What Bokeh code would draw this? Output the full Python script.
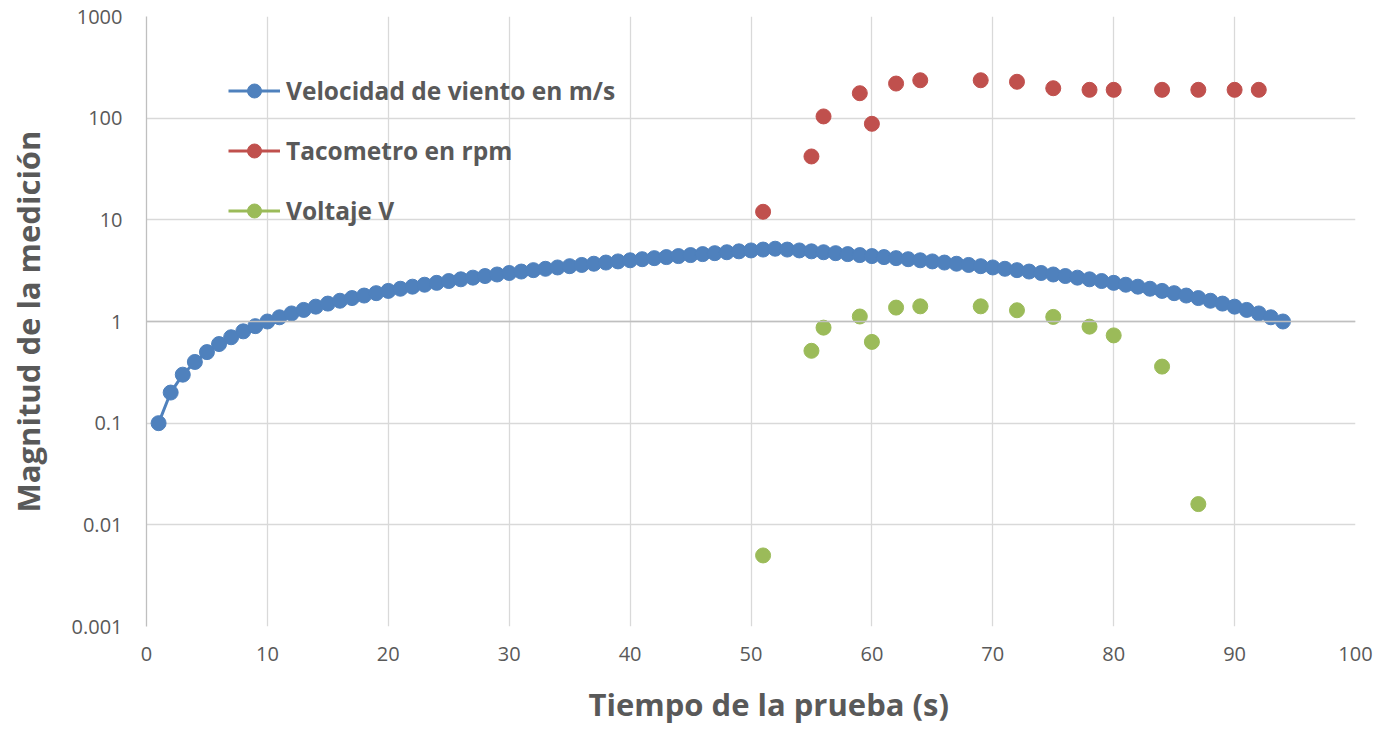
from bokeh.plotting import figure
from bokeh.models import (Legend, LegendItem, FixedTicker, CustomJSTickFormatter, Span, Title)
from bokeh.embed import file_html
from bokeh.resources import INLINE

# ---- data ----
tiempo_viento = [1, 2, 3, 4, 5, 6, 7, 8, 9, 10,
                 11, 12, 13, 14, 15, 16, 17, 18, 19, 20,
                 21, 22, 23, 24, 25, 26, 27, 28, 29, 30,
                 31, 32, 33, 34, 35, 36, 37, 38, 39, 40,
                 41, 42, 43, 44, 45, 46, 47, 48, 49, 50,
                 51, 52, 53, 54, 55, 56, 57, 58, 59, 60,
                 61, 62, 63, 64, 65, 66, 67, 68, 69, 70,
                 71, 72, 73, 74, 75, 76, 77, 78, 79, 80,
                 81, 82, 83, 84, 85, 86, 87, 88, 89, 90,
                 91, 92, 93, 94]
velocidad_viento = [0.1, 0.2, 0.3, 0.4, 0.5, 0.6, 0.7, 0.8, 0.9, 1.0,
                    1.1, 1.2, 1.3, 1.4, 1.5, 1.6, 1.7, 1.8, 1.9, 2.0,
                    2.1, 2.2, 2.3, 2.4, 2.5, 2.6, 2.7, 2.8, 2.9, 3.0,
                    3.1, 3.2, 3.3, 3.4, 3.5, 3.6, 3.7, 3.8, 3.9, 4.0,
                    4.1, 4.2, 4.3, 4.4, 4.5, 4.6, 4.7, 4.8, 4.9, 5.0,
                    5.1, 5.2, 5.1, 5.0, 4.9, 4.8, 4.7, 4.6, 4.5, 4.4,
                    4.3, 4.2, 4.1, 4.0, 3.9, 3.8, 3.7, 3.6, 3.5, 3.4,
                    3.3, 3.2, 3.1, 3.0, 2.9, 2.8, 2.7, 2.6, 2.5, 2.4,
                    2.3, 2.2, 2.1, 2.0, 1.9, 1.8, 1.7, 1.6, 1.5, 1.4,
                    1.3, 1.2, 1.1, 1.0]

tiempo_tacometro = [51, 55, 56, 59, 60, 62, 64, 69, 72, 75, 78, 80, 84, 87, 90, 92]
tacometro_rpm = [12, 42, 104, 176, 88, 219, 236, 236, 228, 197, 190, 190, 190, 190, 190, 190]

tiempo_voltaje = [51, 55, 56, 59, 60, 62, 64, 69, 72, 75, 78, 80, 84, 87]
voltaje_v = [0.005, 0.515, 0.87, 1.12, 0.63, 1.37, 1.41, 1.41, 1.29, 1.11, 0.89, 0.73, 0.36, 0.016]

series_names = ["Velocidad de viento en m/s", "Tacometro en rpm", "Voltaje V"]
x_ticks = [0, 10, 20, 30, 40, 50, 60, 70, 80, 90, 100]
y_ticks = [0.001, 0.01, 0.1, 1, 10, 100, 1000]
y_tick_labels = ["0.001", "0.01", "0.1", "1", "10", "100", "1000"]
x_title = "Tiempo de la prueba (s)"
y_title = "Magnitud de la medición"

# ---- style ----
BLUE = "#4F81BD"
RED = "#C0504D"
GREEN = "#9BBB59"
TEXT = "#595959"
GRID = "#d9d9d9"
FONT = "Open Sans"

p = figure(width=1377, height=744, output_backend="svg", toolbar_location=None,
           x_range=(0, 100), y_range=(0.001, 1000), y_axis_type="log",
           min_border_left=146, min_border_right=22, min_border_top=16, min_border_bottom=118)
p.outline_line_color = None
p.background_fill_color = "white"
p.border_fill_color = "white"

# grid
p.xgrid.ticker = FixedTicker(ticks=x_ticks)
p.ygrid.ticker = FixedTicker(ticks=y_ticks)
p.xgrid.grid_line_color = GRID
p.ygrid.grid_line_color = GRID
p.xgrid.grid_line_width = 1.3
p.ygrid.grid_line_width = 1.3

# axes
p.xaxis.ticker = FixedTicker(ticks=x_ticks)
p.yaxis.ticker = FixedTicker(ticks=y_ticks)
p.yaxis.formatter = CustomJSTickFormatter(args=dict(labels=y_tick_labels),
                                          code="return labels[Math.round(Math.log10(tick)) + 3];")
for ax in (p.xaxis, p.yaxis):
    ax.major_tick_line_color = None
    ax.minor_tick_line_color = None
    ax.major_label_text_color = TEXT
    ax.major_label_text_font = FONT
    ax.major_label_text_font_size = "20px"
    ax.axis_label_text_color = TEXT
    ax.axis_label_text_font = FONT
    ax.axis_label_text_font_style = "bold"
    ax.axis_label_text_font_size = "31px"
p.xaxis.axis_line_color = None
p.yaxis.axis_line_color = "#bfbfbf"
p.yaxis.axis_line_width = 1.3
p.xaxis.major_label_standoff = 14
p.yaxis.major_label_standoff = 18
p.yaxis.axis_label = y_title
p.yaxis.axis_label_standoff = 20

# x-axis title, offset to the right as in the original
p.add_layout(Title(text=x_title, align="left", offset=442, standoff=34,
                   text_font=FONT, text_font_style="bold", text_font_size="31px",
                   text_color=TEXT), "below")

# horizontal axis line crossing at 1
p.add_layout(Span(location=1, dimension="width", line_color="#bfbfbf", line_width=1.5))

# series
l_blue = p.line(tiempo_viento, velocidad_viento, line_color=BLUE, line_width=3)
s_blue = p.scatter(tiempo_viento, velocidad_viento, size=15, fill_color=BLUE, line_color=BLUE)
l_red = p.line([float("nan")], [float("nan")], line_color=RED, line_width=3)
s_red = p.scatter(tiempo_tacometro, tacometro_rpm, size=15, fill_color=RED, line_color=RED)
l_green = p.line([float("nan")], [float("nan")], line_color=GREEN, line_width=3)
s_green = p.scatter(tiempo_voltaje, voltaje_v, size=15, fill_color=GREEN, line_color=GREEN)

legend = Legend(items=[
    LegendItem(label=series_names[0], renderers=[l_blue, s_blue]),
    LegendItem(label=series_names[1], renderers=[l_red, s_red]),
    LegendItem(label=series_names[2], renderers=[l_green, s_green]),
], location=(82, 398))
legend.padding = 0
legend.margin = 0
legend.border_line_color = None
legend.background_fill_alpha = 0
legend.glyph_width = 52
legend.glyph_height = 35
legend.label_height = 35
legend.spacing = 25
legend.label_standoff = 6
legend.label_text_font = FONT
legend.label_text_font_style = "bold"
legend.label_text_font_size = "24.5px"
legend.label_text_color = TEXT
p.add_layout(legend, "center")

open("out.html", "w").write(file_html(p, INLINE))
